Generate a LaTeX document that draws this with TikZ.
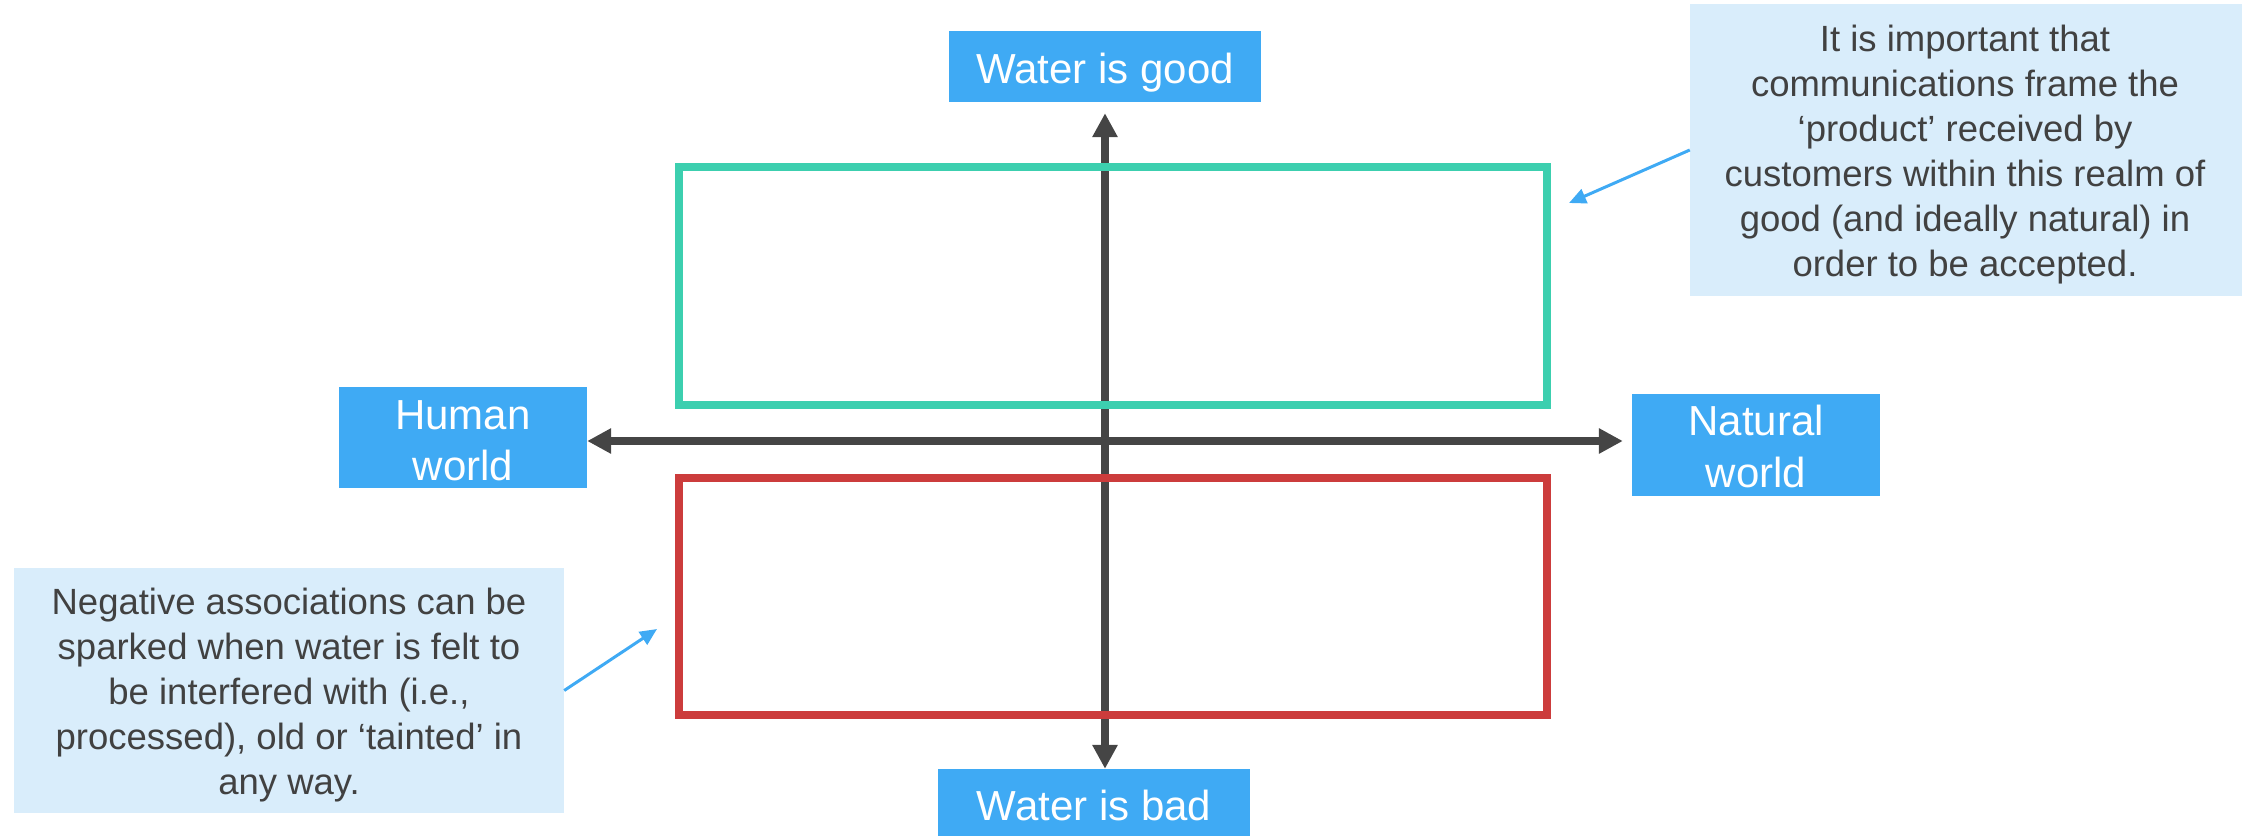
\documentclass[tikz,border=0pt]{standalone}
\usepackage{fontspec}
\setmainfont{Liberation Sans}
\usetikzlibrary{arrows.meta}
\definecolor{lblue}{HTML}{3FAAF4}
\definecolor{nblue}{HTML}{D9EDFB}
\definecolor{tgray}{HTML}{414141}
\definecolor{agray}{HTML}{454545}
\definecolor{ggreen}{HTML}{3CCFAF}
\definecolor{rred}{HTML}{CC3C3C}
\tikzset{
  lbl/.style={fill=lblue, inner sep=0pt, draw=none},
  lbltext/.style={text=white, font=\fontsize{42}{50}\selectfont, anchor=base, inner sep=0pt},
  notebox/.style={fill=nblue, inner sep=0pt, draw=none},
  notetext/.style={text=tgray, font=\fontsize{36.5}{45}\selectfont, anchor=base, inner sep=0pt},
  axis/.style={draw=agray, line width=8pt, {Triangle[length=24pt,width=24pt]}-{Triangle[length=24pt,width=24pt]}},
  realm/.style={line width=8pt, fill=none},
  callarrow/.style={draw=lblue, line width=3pt, -{Triangle[length=17pt,width=15pt]}}
}
\begin{document}
\begin{tikzpicture}[x=1pt,y=-1pt]
\useasboundingbox (0,0) rectangle (2242,836);
% label boxes
\node[lbl, minimum width=312pt, minimum height=71pt] (good) at (1105,66.5) {};
\node[lbl, minimum width=312pt, minimum height=67pt] (bad) at (1094,802.5) {};
\node[lbl, minimum width=248pt, minimum height=101pt] (human) at (463,437.5) {};
\node[lbl, minimum width=248pt, minimum height=102pt] (natural) at (1756,445) {};
\node[lbltext] (goodt) at (1105,83) {Water is good};
\node[lbltext] (badt) at (1094,820) {Water is bad};
\node[lbltext] (humant1) at (463,429) {Human};
\node[lbltext] (humant2) at (463,480) {world};
\node[lbltext] (naturalt1) at (1756,435) {Natural};
\node[lbltext] (naturalt2) at (1756,487) {world};
% axes
\coordinate (cross) at (1105,441);
\draw[axis, shorten <=11pt] (good.south) -- (good.south |- bad.north);
\draw[axis, shorten >=9pt] (human.east |- cross) -- (natural.west |- cross);
% realms
\node[realm, draw=ggreen, minimum width=868pt, minimum height=238pt, inner sep=0pt] (goodrealm) at (1113,286) {};
\node[realm, draw=rred, minimum width=868pt, minimum height=237pt, inner sep=0pt] (badrealm) at (1113,596.5) {};
% callouts
\node[notebox, minimum width=552pt, minimum height=292pt] (noteTR) at (1966,150) {};
\node[notetext] (tr1) at (1965,51) {It is important that};
\node[notetext] (tr2) at (1965,96) {communications frame the};
\node[notetext] (tr3) at (1965,141) {‘product’ received by};
\node[notetext] (tr4) at (1965,186) {customers within this realm of};
\node[notetext] (tr5) at (1965,231) {good (and ideally natural) in};
\node[notetext] (tr6) at (1965,276) {order to be accepted.};
\node[notebox, minimum width=550pt, minimum height=245pt] (noteBL) at (289,690.5) {};
\node[notetext] (bl1) at (289,614) {Negative associations can be};
\node[notetext] (bl2) at (289,659) {sparked when water is felt to};
\node[notetext] (bl3) at (289,704) {be interfered with (i.e.,};
\node[notetext] (bl4) at (289,749) {processed), old or ‘tainted’ in};
\node[notetext] (bl5) at (289,794) {any way.};
\coordinate (tipG) at (1569,203);
\coordinate (tipR) at (657,629);
\draw[callarrow] (noteTR.west) -- (tipG);
\draw[callarrow] (noteBL.east) -- (tipR);
\end{tikzpicture}
\end{document}
